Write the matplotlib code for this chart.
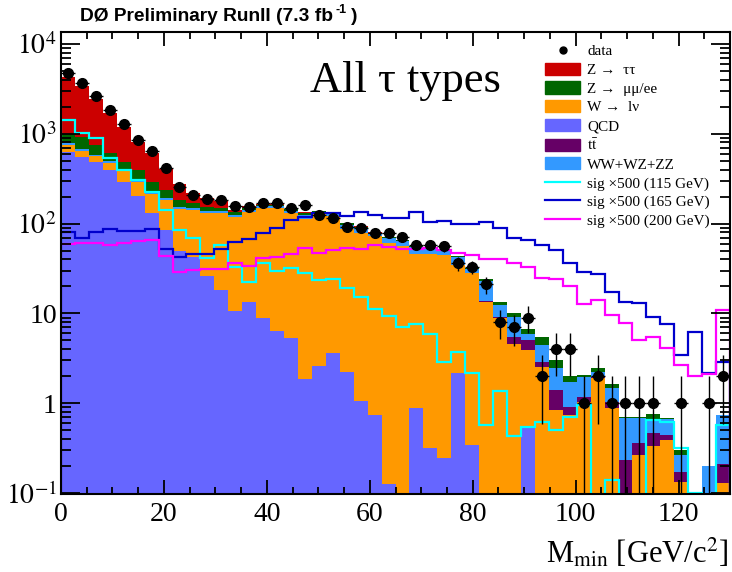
import numpy as np
import matplotlib
matplotlib.use("Agg")
import matplotlib.pyplot as plt
from matplotlib.patches import Patch
from matplotlib.lines import Line2D
from matplotlib.ticker import FixedLocator, FixedFormatter, LogLocator, MultipleLocator, NullFormatter

plt.rcParams['font.family'] = ['Liberation Serif', 'DejaVu Serif']
plt.rcParams['mathtext.fontset'] = 'stix'

# --- binning: 48 bins from 0 to 130 ---
x_min, x_max, n_bins = 0.0, 130.0, 48

# --- data counts ---
data = [4720, 3706, 2655, 1841, 1285, 853, 649, 420, 254, 208, 188, 183,
        157, 152, 171, 171, 148, 160, 125, 116, 92, 90, 79, 78,
        71, 58, 58, 56, 36, 33, 21, 8, 7, 9, 2, 4,
        4, 1, 2, 1, 1, 1, 1, 0, 1, 0, 1, 2]

# --- backgrounds (stacked bottom -> top) ---
qcd = [630, 556, 489, 395, 293, 205, 130, 85, 49, 43, 26, 18,
       10.7, 13.5, 8.8, 6.3, 5.3, 1.86, 2.6, 3.6, 2.2, 1.06, 0.74, 0.126,
       0, 0.885, 0.32, 0.243, 2.19, 0.34, 0, 0, 0, 0.55, 0, 0,
       0, 0, 0, 0, 0, 0, 0, 0, 0, 0, 0, 0]
w_lnu = [120, 93, 77, 82, 102, 88, 82, 98, 95, 99, 106, 114,
         108, 122, 140, 142, 125, 110, 125, 118, 84, 77, 72, 60,
         56, 45, 45, 44, 32, 27.5, 13.5, 8.8, 4.6, 3.35, 2.55, 0.84,
         0.74, 1.04, 1.89, 0.88, 0.05, 0.265, 0.33, 0.39, 0.13, 0, 0, 0.128]
ttbar = [0.5, 0.5, 0.5, 0.5, 0.5, 0.5, 0.5, 0.5, 0.5, 0.5, 0.5, 0.5,
         0.5, 0.5, 0.5, 0.5, 0.5, 0.5, 0.5, 0.5, 0.5, 0.4, 0.4, 0.4,
         0.4, 0.4, 0.4, 0.4, 0.4, 0.4, 0.4, 0.4, 0.9, 1.1, 0.35, 0.56,
         0.17, 0.14, 0.08, 0.16, 0.18, 0.09, 0.13, 0.05, 0.04, 0, 0, 0.08]
diboson = [32, 20, 15, 15, 12, 10, 8, 8, 7, 7, 6, 6,
           6, 6, 6, 7, 8, 12, 6, 5, 10, 10, 4, 8,
           7, 8, 8, 6, 8, 3, 9, 3.2, 3.7, 0.9, 1.55, 1.05,
           0.83, 0.79, 0.27, 0.43, 0.45, 0.32, 0.2, 0.22, 0.095, 0, 0.2, 0.53]
z_mumu = [212, 260, 169, 115, 82, 92, 73, 46, 32, 22, 16, 12,
          10, 8, 7, 6, 6, 8, 4, 4, 4, 4, 2, 2,
          1.5, 1.5, 1.5, 1.5, 1, 0.8, 1, 1.1, 0.8, 0.8, 0.95, 0.55,
          0.26, 0.09, 0.21, 0.17, 0.02, 0.02, 0.09, 0.02, 0.035, 0.05, 0, 0]
z_tautau = [3330, 2475, 1670, 1111, 710, 422, 314, 165, 93, 46, 37, 30,
            7, 5, 3, 3, 2, 2, 1.5, 1, 1, 0.5, 0.5, 0.3,
            0.3, 0.2, 0.2, 0.2, 0.2, 0.1, 0.1, 0.05, 0.05, 0.05, 0.02, 0.02,
            0.01, 0.01, 0.01, 0.01, 0, 0, 0, 0, 0, 0, 0, 0]

# --- signals x500 ---
sig115 = [1426, 1012, 891, 533, 395, 306, 226, 142, 85, 69, 41, 58,
          33, 22.5, 36, 30, 31.8, 27.9, 23.5, 23.9, 19, 15.1, 11.1, 9.4,
          7.1, 7.6, 5.9, 2.9, 3.75, 2.19, 0.57, 1.38, 0.43, 0.55, 0.61, 0.5,
          0.7, 0.955, 0.05, 0.14, 0.05, 0.05, 0.65, 0.62, 0.32, 0.1, 0.05, 0.57]
sig165 = [81, 68.5, 81, 86, 83, 83, 86, 51.8, 42, 45.8, 45.8, 51.8,
          63, 66.8, 78, 88.6, 109.6, 119, 130, 130, 122, 134, 126, 116,
          116, 136, 105, 108, 99, 99, 103, 88.6, 70, 65.6, 57.8, 50.9,
          36.7, 29.2, 27.5, 17.5, 13.5, 13.2, 9.2, 7.6, 3.45, 6.25, 2.15, 2.9]
sig200 = [59.3, 61.3, 60.3, 57.8, 60.3, 64, 65.6, 43.6, 29.2, 30.4, 31, 31,
          36.7, 33.7, 41, 42.2, 45.8, 53, 47.4, 50.8, 53, 52, 57.8, 55.4,
          52, 52, 53, 50.8, 47.4, 44.7, 40.4, 40.4, 36, 32.6, 24.5, 23.9,
          20.2, 12.7, 14.1, 9.6, 7.9, 5.06, 5.4, 4.1, 2.66, 2.0, 2.1, 10.9]

labels = ["data", "Z \u2192  \u03c4\u03c4", "Z \u2192  \u03bc\u03bc/ee", "W \u2192  l\u03bd",
          "QCD", r"t$\mathrm{\bar{t}}$", "WW+WZ+ZZ",
          "sig \u00d7500 (115 GeV)", "sig \u00d7500 (165 GeV)", "sig \u00d7500 (200 GeV)"]

# colours (ROOT-like)
c_ztt, c_zmm, c_w, c_qcd, c_tt, c_vv = "#cc0000", "#006600", "#ff9900", "#6666ff", "#660066", "#3399ff"
c_s115, c_s165, c_s200 = "#00ffff", "#0000cc", "#ff00ff"

edges = np.linspace(x_min, x_max, n_bins + 1)
centers = 0.5 * (edges[:-1] + edges[1:])
bw = edges[1] - edges[0]

fig = plt.figure(figsize=(7.32, 5.72), dpi=100)
ax = fig.add_axes([61 / 732, 78 / 572, 669 / 732, 462.3 / 572])

# stacked backgrounds
stack = [(qcd, c_qcd), (w_lnu, c_w), (ttbar, c_tt), (diboson, c_vv), (z_mumu, c_zmm), (z_tautau, c_ztt)]
bottom = np.full(n_bins, 1e-3)
for vals, col in stack:
    top = bottom + np.array(vals, dtype=float)
    ax.stairs(top, edges, baseline=bottom, fill=True, color=col, lw=0)
    bottom = top

# signal lines
for vals, col in [(sig115, c_s115), (sig165, c_s165), (sig200, c_s200)]:
    ax.stairs(np.maximum(np.array(vals, dtype=float), 1e-3), edges, color=col, lw=1.6)

# data with errors
d = np.array(data, dtype=float)
m = d > 0
err = np.sqrt(d[m])
lo = np.minimum(err, d[m] - 1e-4)
ax.errorbar(centers[m], d[m], yerr=[lo, err], xerr=bw / 2, fmt='o', color='black',
            ms=7, elinewidth=1.0, capsize=0, zorder=5)

ax.set_yscale('log')
ax.set_xlim(x_min, x_max)
ax.set_ylim(0.0975, 1.37e4)

# ticks
ax.xaxis.set_major_locator(MultipleLocator(20))
ax.xaxis.set_minor_locator(MultipleLocator(5))
ax.yaxis.set_major_locator(FixedLocator([0.1, 1, 10, 100, 1000, 10000]))
ax.yaxis.set_major_formatter(FixedFormatter([r"$10^{-1}$", "1", "10", r"$10^{2}$", r"$10^{3}$", r"$10^{4}$"]))
ax.yaxis.set_minor_locator(LogLocator(base=10, subs=np.arange(2, 10), numticks=20))
ax.yaxis.set_minor_formatter(NullFormatter())
ax.tick_params(which='both', direction='in', top=True, right=True, labelsize=20, width=1.3)
ax.tick_params(axis='x', which='major', length=10, pad=6)
ax.tick_params(axis='x', which='minor', length=5)
ax.tick_params(axis='y', which='major', length=14, pad=3)
ax.tick_params(axis='y', which='minor', length=7)
for s in ax.spines.values():
    s.set_linewidth(1.5)

# legend
handles = [Line2D([], [], marker='o', ls='none', color='black', ms=5),
           Patch(color=c_ztt), Patch(color=c_zmm), Patch(color=c_w), Patch(color=c_qcd),
           Patch(color=c_tt), Patch(color=c_vv),
           Line2D([], [], color=c_s115, lw=1.6), Line2D([], [], color=c_s165, lw=1.6),
           Line2D([], [], color=c_s200, lw=1.6)]
ax.legend(handles, labels, loc='upper left', bbox_to_anchor=(545 / 732, 1 - 44 / 572),
          bbox_transform=fig.transFigure, frameon=False, fontsize=11,
          handlelength=2.3, handleheight=0.85, handletextpad=0.45, labelspacing=0.28,
          borderaxespad=0, borderpad=0)

# texts
fig.text(310 / 732, 1 - 92 / 572, "All \u03c4 types", fontsize=32)
fig.text(80 / 732, 1 - 21 / 572, "D\u00d8 Preliminary RunII (7.3 fb", fontsize=13.8,
         fontweight='bold', family='Liberation Sans')
fig.text(336 / 732, 1 - 13 / 572, "-1", fontsize=9, fontweight='bold', family='Liberation Sans')
fig.text(351 / 732, 1 - 21 / 572, ")", fontsize=13.8, fontweight='bold', family='Liberation Sans')
fig.text(728 / 732, 1 - 563 / 572, r"M$_{\mathrm{min}}$ [GeV/c$^{2}$]", fontsize=22, ha='right')

fig.savefig("out.png", dpi=100)
